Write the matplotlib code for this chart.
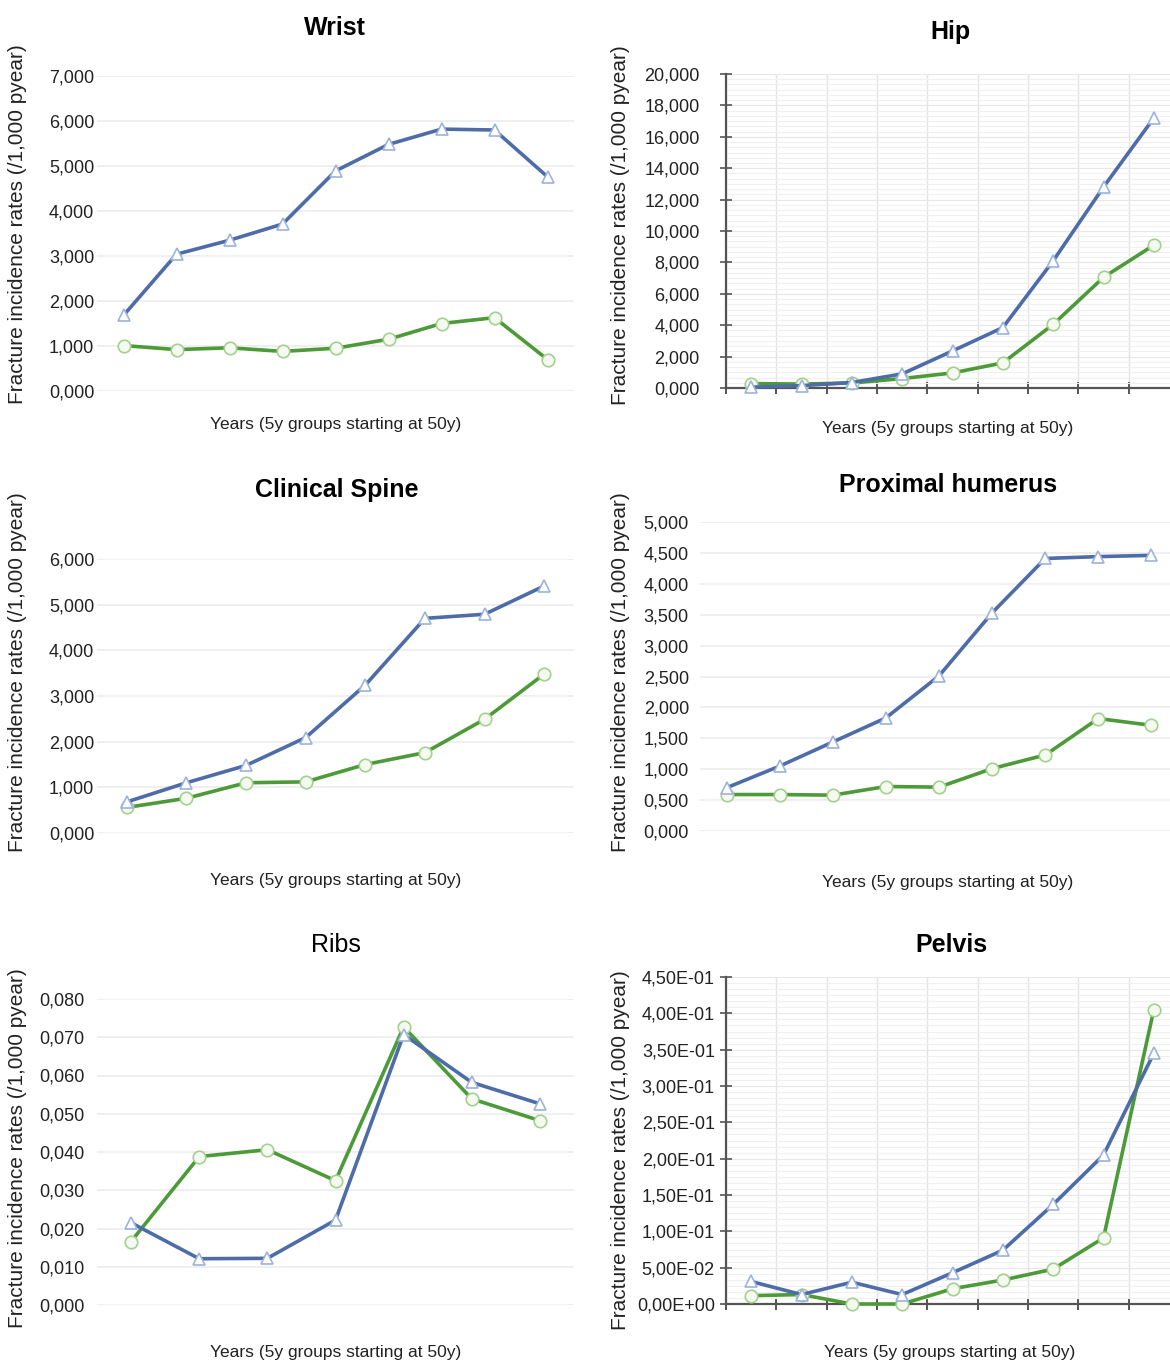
import numpy as np
import matplotlib
matplotlib.use("Agg")
import matplotlib.pyplot as plt
from matplotlib.ticker import FuncFormatter, MultipleLocator, FixedLocator

plt.rcParams['font.family'] = ['Liberation Sans', 'DejaVu Sans']

# incidence rates per 5-year age group (/1,000 pyear), women (blue) and men (green)
wrist_w = [1.68, 3.04, 3.35, 3.71, 4.89, 5.48, 5.82, 5.80, 4.76]
wrist_m = [1.01, 0.92, 0.96, 0.88, 0.95, 1.15, 1.50, 1.63, 0.70]

hip_w = [0.05, 0.15, 0.35, 0.90, 2.36, 3.85, 8.10, 12.80, 17.20]
hip_m = [0.28, 0.25, 0.32, 0.60, 0.96, 1.60, 4.05, 7.05, 9.10]

spine_w = [0.68, 1.10, 1.48, 2.09, 3.24, 4.70, 4.79, 5.41]
spine_m = [0.56, 0.76, 1.10, 1.12, 1.50, 1.76, 2.49, 3.48]

humerus_w = [0.70, 1.05, 1.44, 1.83, 2.51, 3.53, 4.41, 4.44, 4.46]
humerus_m = [0.59, 0.59, 0.58, 0.72, 0.71, 1.01, 1.23, 1.82, 1.71]

ribs_w = [0.0215, 0.0121, 0.0122, 0.0222, 0.0707, 0.0582, 0.0526]
ribs_m = [0.0166, 0.0388, 0.0406, 0.0325, 0.0727, 0.0539, 0.0482]

pelvis_w = [0.031, 0.013, 0.030, 0.013, 0.043, 0.074, 0.137, 0.205, 0.345]
pelvis_m = [0.0115, 0.013, 0.0, 0.0, 0.021, 0.033, 0.048, 0.091, 0.405]

ylabel = 'Fracture incidence rates (/1,000 pyear)'
xlabel = 'Years (5y groups starting at 50y)'

BLUE = '#4d6ca8'
GREEN = '#4c9a38'

dec = FuncFormatter(lambda v, p: f'{v:.3f}'.replace('.', ','))
sci = FuncFormatter(lambda v, p: f'{v:.2E}'.replace('.', ','))

fig = plt.figure(figsize=(11.7, 13.65), dpi=100)
W, H = 1170, 1365


def panel(box, women, men, top, step, fmt, boxed=False, pad=4):
    ax = fig.add_axes(box)
    x = np.arange(len(women))
    ax.plot(x, women, color=BLUE, lw=2.6, marker='^', ms=9, mfc='white',
            mec='#9db3dc', mew=1.2, clip_on=False, zorder=4)
    ax.plot(x, men, color=GREEN, lw=2.6, marker='o', ms=9, mfc='#f4faef',
            mec='#a5d08f', mew=1.2, clip_on=False, zorder=3)
    ax.set_xlim(-0.5, len(women) - 0.5)
    ax.set_ylim(0, top)
    ax.yaxis.set_major_locator(MultipleLocator(step))
    ax.yaxis.set_major_formatter(fmt)
    for s in ['top', 'right']:
        ax.spines[s].set_visible(False)
    if boxed:
        # spreadsheet-style frame: dark axis lines, category ticks, fine grid
        for s in ['left', 'bottom']:
            ax.spines[s].set_color('#555555')
            ax.spines[s].set_linewidth(1.6)
        ax.xaxis.set_major_locator(FixedLocator(np.arange(len(women) + 1) - 0.5))
        ax.set_xticklabels([])
        ax.tick_params(axis='x', direction='inout', length=9, width=1.4, color='#555555')
        ax.tick_params(axis='y', direction='inout', length=8, width=1.2, color='#555555',
                       labelsize=13, pad=pad, labelcolor='#222222')
        ax.yaxis.set_minor_locator(MultipleLocator(step / 6))
        ax.tick_params(axis='y', which='minor', length=0)
        ax.grid(axis='x', which='major', color='#e4e4e4', lw=1.0)
        ax.grid(axis='y', which='minor', color='#f0f0f0', lw=0.8)
        ax.grid(axis='y', which='major', color='#e8e8e8', lw=0.9)
    else:
        ax.spines['left'].set_visible(False)
        ax.spines['bottom'].set_visible(False)
        ax.set_xticks([])
        ax.tick_params(axis='y', length=0, labelsize=13, pad=pad, labelcolor='#222222')
        ax.grid(axis='y', color='#ececec', lw=1.2)
    ax.set_axisbelow(True)
    return ax


def fb(left, right, y0, ytop):
    return [left / W, 1 - y0 / H, (right - left) / W, (y0 - ytop) / H]


panel(fb(97, 574, 391, 76), wrist_w, wrist_m, 7, 1, dec, pad=2)
panel(fb(726, 1179, 388, 74), hip_w, hip_m, 20, 2, dec, boxed=True, pad=15)
panel(fb(97, 574, 833, 559), spine_w, spine_m, 6, 1, dec, pad=2)
panel(fb(700, 1178, 831, 522), humerus_w, humerus_m, 5, 0.5, dec, pad=8)
panel(fb(97, 574, 1305, 999), ribs_w, ribs_m, 0.08, 0.01, dec, pad=9)
panel(fb(726, 1179, 1304, 977), pelvis_w, pelvis_m, 0.45, 0.05, sci, boxed=True, pad=4)

titles = [('Wrist', 335, 28, 'bold'), ('Hip', 950, 32, 'bold'),
          ('Clinical Spine', 337, 490, 'bold'), ('Proximal humerus', 948, 485, 'bold'),
          ('Ribs', 336, 945, 'normal'), ('Pelvis', 951, 945, 'bold')]
for t, x, y, w in titles:
    fig.text(x / W, 1 - y / H, t, ha='center', va='center', fontsize=18, fontweight=w)

for x, y in [(336, 425), (948, 428), (336, 880), (948, 883), (336, 1352), (950, 1352)]:
    fig.text(x / W, 1 - y / H, xlabel, ha='center', va='center', fontsize=12.5, color='#222222')

for x, y in [(18, 224), (620, 225), (18, 672), (620, 672), (18, 1148), (620, 1150)]:
    fig.text(x / W, 1 - y / H, ylabel, ha='center', va='center', rotation=90,
             fontsize=15, color='#222222')

fig.savefig('out.png', dpi=100)
